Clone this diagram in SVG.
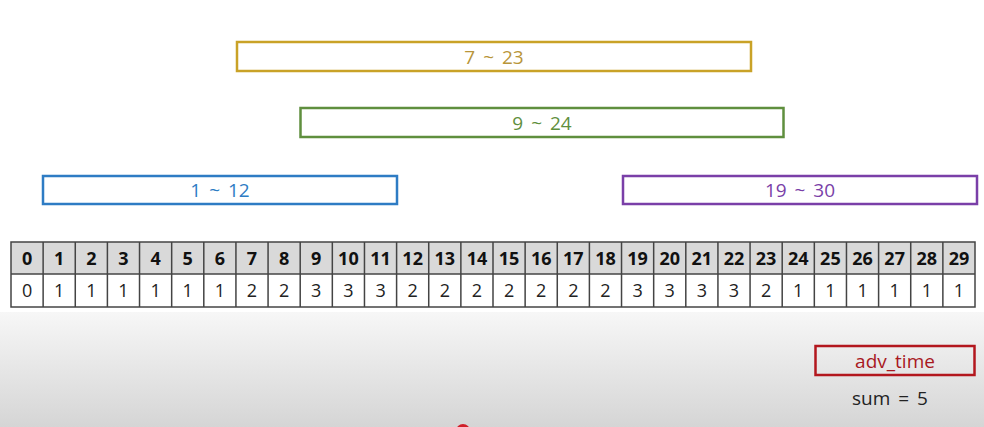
<svg xmlns="http://www.w3.org/2000/svg" width="984" height="427" viewBox="0 0 984 427">
<defs>
<linearGradient id="bg" x1="0" y1="0" x2="0" y2="1">
<stop offset="0" stop-color="#f7f7f7"/>
<stop offset="1" stop-color="#d5d5d5"/>
</linearGradient>
<style>
text{font-family:"Open Sans","Noto Sans","DejaVu Sans",sans-serif;text-anchor:middle}
.rng{fill:#fff;stroke-width:2.5}
.rt{font-size:19px;word-spacing:3px}
.h{font-size:18px;font-weight:bold;fill:#111}
.v{font-size:18px;fill:#222}
.g{stroke:#444;stroke-width:1.5;fill:none}
</style>
</defs>
<rect width="984" height="427" fill="#fff"/>
<rect y="312" width="984" height="115" fill="url(#bg)"/>
<circle cx="463" cy="431" r="7" fill="#d0202a"/>

<g id="r7_23"><rect class="rng" x="237" y="42" width="514" height="29" stroke="#c9a227"/><text class="rt" x="494" y="64" fill="#b8953a">7 ~ 23</text></g>
<g id="r9_24"><rect class="rng" x="300.5" y="108" width="483" height="29" stroke="#5f8f3e"/><text class="rt" x="542" y="130" fill="#5f8f3e">9 ~ 24</text></g>
<g id="r1_12"><rect class="rng" x="43" y="176" width="354" height="28" stroke="#2e7cc4"/><text class="rt" x="220" y="197" fill="#2e7cc4">1 ~ 12</text></g>
<g id="r19_30"><rect class="rng" x="623" y="176" width="354" height="28" stroke="#7a3fa8"/><text class="rt" x="800" y="197" fill="#7a3fa8">19 ~ 30</text></g>
<g id="adv"><rect x="815.5" y="346" width="159" height="29" fill="none" stroke="#b3171e" stroke-width="2.5"/><text class="rt" x="895" y="368" fill="#a8181e">adv_time</text></g>
<text id="sum" class="rt" x="890" y="405" fill="#222">sum = 5</text>

<g id="table">
<rect x="11" y="242" width="964" height="32" fill="#d9d9d9"/>
<rect x="11" y="274" width="964" height="33" fill="#fff"/>
<rect class="g" x="11" y="242" width="964" height="65"/>
<line class="g" x1="11" y1="274" x2="975" y2="274"/>
<path class="g" d="M43.13 242V307M75.27 242V307M107.4 242V307M139.53 242V307M171.67 242V307M203.8 242V307M235.93 242V307M268.07 242V307M300.2 242V307M332.33 242V307M364.47 242V307M396.6 242V307M428.73 242V307M460.87 242V307M493 242V307M525.13 242V307M557.27 242V307M589.4 242V307M621.53 242V307M653.67 242V307M685.8 242V307M717.93 242V307M750.07 242V307M782.2 242V307M814.33 242V307M846.47 242V307M878.6 242V307M910.73 242V307M942.87 242V307"/>
<g class="h">
<text x="27.07" y="265">0</text><text x="59.2" y="265">1</text><text x="91.33" y="265">2</text><text x="123.47" y="265">3</text><text x="155.6" y="265">4</text><text x="187.73" y="265">5</text><text x="219.87" y="265">6</text><text x="252" y="265">7</text><text x="284.13" y="265">8</text><text x="316.27" y="265">9</text><text x="348.4" y="265">10</text><text x="380.53" y="265">11</text><text x="412.67" y="265">12</text><text x="444.8" y="265">13</text><text x="476.93" y="265">14</text><text x="509.07" y="265">15</text><text x="541.2" y="265">16</text><text x="573.33" y="265">17</text><text x="605.47" y="265">18</text><text x="637.6" y="265">19</text><text x="669.73" y="265">20</text><text x="701.87" y="265">21</text><text x="734" y="265">22</text><text x="766.13" y="265">23</text><text x="798.27" y="265">24</text><text x="830.4" y="265">25</text><text x="862.53" y="265">26</text><text x="894.67" y="265">27</text><text x="926.8" y="265">28</text><text x="958.93" y="265">29</text>
</g>
<g class="v">
<text x="27.07" y="297">0</text><text x="59.2" y="297">1</text><text x="91.33" y="297">1</text><text x="123.47" y="297">1</text><text x="155.6" y="297">1</text><text x="187.73" y="297">1</text><text x="219.87" y="297">1</text><text x="252" y="297">2</text><text x="284.13" y="297">2</text><text x="316.27" y="297">3</text><text x="348.4" y="297">3</text><text x="380.53" y="297">3</text><text x="412.67" y="297">2</text><text x="444.8" y="297">2</text><text x="476.93" y="297">2</text><text x="509.07" y="297">2</text><text x="541.2" y="297">2</text><text x="573.33" y="297">2</text><text x="605.47" y="297">2</text><text x="637.6" y="297">3</text><text x="669.73" y="297">3</text><text x="701.87" y="297">3</text><text x="734" y="297">3</text><text x="766.13" y="297">2</text><text x="798.27" y="297">1</text><text x="830.4" y="297">1</text><text x="862.53" y="297">1</text><text x="894.67" y="297">1</text><text x="926.8" y="297">1</text><text x="958.93" y="297">1</text>
</g>
</g>
</svg>
